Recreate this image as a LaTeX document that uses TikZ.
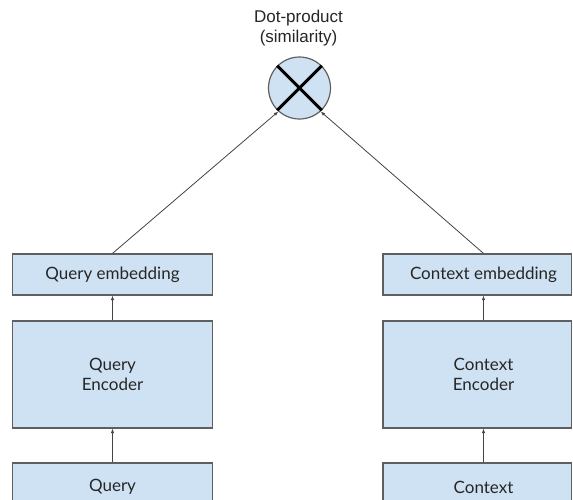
\documentclass[tikz,border=0pt]{standalone}
\usepackage{fontspec}
\setmainfont{Lato}
\newfontfamily\arialfont{Liberation Sans}
\usetikzlibrary{arrows.meta}
\definecolor{boxfill}{HTML}{CFE2F3}
\definecolor{boxline}{HTML}{5F5F5F}
\definecolor{wire}{HTML}{444444}
\begin{document}
\begin{tikzpicture}[x=1pt,y=-1pt,
  box/.style={draw=boxline,fill=boxfill,line width=1.2pt,inner sep=0pt},
  lbl/.style={font=\fontsize{17}{20}\selectfont,align=center,text=black!85,inner sep=0pt},
  conn/.style={draw=wire,line width=0.8pt,-{Latex[length=4.5pt,width=3.5pt]}}]
\clip (0,0) rectangle (573,499);
\fill[white] (0,0) rectangle (573,499);

% query column
\node[box,lbl,minimum width=200pt,minimum height=41pt] (qemb) at (112.5,274.5) {Query embedding};
\node[box,lbl,minimum width=200pt,minimum height=107pt] (qenc) at (112.5,374.5) {Query\\Encoder};
\node[box,lbl,minimum width=200pt,minimum height=48pt] (qin) at (112.5,487) {Query};

% context column (right edge cut by the page)
\coordinate (cx) at (483.5,0);
\node[box,minimum width=188.5pt,minimum height=41pt] (cemb) at (477.25,274.5) {};
\node[lbl] (cembt) at (483.5,274.5) {Context embedding};
\node[box,minimum width=188.5pt,minimum height=107pt] (cenc) at (477.25,374.5) {};
\node[lbl] (cenct) at (483.5,374.5) {Context\\Encoder};
\node[box,minimum width=188.5pt,minimum height=48pt] (cin) at (477.25,487) {};
\node[lbl] (cint) at (483.5,487) {Context};

% dot-product node
\node[draw=boxline,fill=boxfill,circle,minimum size=62pt,line width=1.2pt,inner sep=0pt] (dot) at (299.5,88) {};
\draw[line width=3pt,black] (dot.45) -- (dot.225);
\draw[line width=3pt,black] (dot.135) -- (dot.315);
\node[font=\arialfont\fontsize{17}{20}\selectfont,align=center,text=black!85,inner sep=0pt] (title) at (298.5,28.3) {Dot-product\\(similarity)};

% connectors
\draw[conn] (qin.north) -- (qenc.south);
\draw[conn] (qenc.north) -- (qemb.south);
\draw[conn] (cin.north -| cx) -- (cenc.south -| cx);
\draw[conn] (cenc.north -| cx) -- (cemb.south -| cx);
\draw[conn] (qemb.north) -- (dot.228);
\draw[conn] (cemb.north -| cx) -- (dot.312);
\end{tikzpicture}
\end{document}
